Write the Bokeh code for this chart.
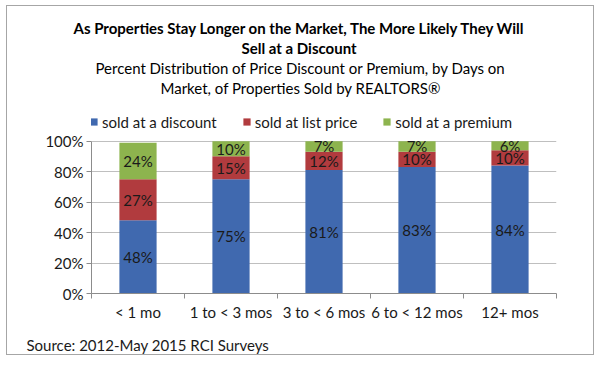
from bokeh.plotting import figure
from bokeh.models import (ColumnDataSource, Range1d, FixedTicker, Legend, LegendItem, Title,
                          InlineStyleSheet)
from bokeh.core.properties import value
from bokeh.embed import file_html
from bokeh.resources import INLINE

# ---- data ----
categories = ["< 1 mo", "1 to < 3 mos", "3 to < 6 mos", "6 to < 12 mos", "12+ mos"]
series_names = ["sold at a discount", "sold at list price", "sold at a premium"]
discount = [48, 75, 81, 83, 84]
list_price = [27, 15, 12, 10, 10]
premium = [24, 10, 7, 7, 6]
y_ticks = [0, 20, 40, 60, 80, 100]
y_tick_labels = ["0%", "20%", "40%", "60%", "80%", "100%"]

title_lines = ["As Properties Stay Longer on the Market, The More Likely They Will",
               "Sell at a Discount"]
subtitle_lines = ["Percent Distribution of Price Discount or Premium,  by Days on",
                  "Market, of Properties Sold by REALTORS\u00ae"]
source_text = "Source: 2012-May 2015 RCI Surveys"

colors = ["#4069AF", "#B13B3E", "#8DB44E"]
FONT = "Lato"

# ---- layout constants (page pixels) ----
FRAME_LEFT, FRAME_RIGHT = 91, 556
Y0_PX, Y100_PX = 293.3, 140.7        # pixel rows of 0% and 100%
FRAME_TOP = 96                       # frame extends above 100% to host the legend
px_per_unit = (Y0_PX - Y100_PX) / 100.0
y_end = 100 + (Y100_PX - FRAME_TOP) / px_per_unit

n = len(categories)
xs = [i + 0.5 for i in range(n)]
src = ColumnDataSource(dict(x=xs, discount=discount, list_price=list_price, premium=premium))

border_css = InlineStyleSheet(css="""
:host { position: relative; }
:host::after {
  content: ""; position: absolute; left: 6px; top: 5px; width: 588px; height: 350px;
  border: 1px solid #A6A6A6; pointer-events: none; z-index: 50; box-sizing: border-box;
}
""")

p = figure(width=600, height=365, output_backend="svg", toolbar_location=None, title=None,
           x_range=Range1d(0, n), y_range=Range1d(0, y_end),
           min_border_left=FRAME_LEFT, min_border_right=600 - FRAME_RIGHT,
           min_border_top=FRAME_TOP, min_border_bottom=round(365 - Y0_PX))
p.outline_line_color = None
p.background_fill_color = "white"
p.border_fill_color = "white"
p.stylesheets = [border_css]

renderers = p.vbar_stack(["discount", "list_price", "premium"], x="x", width=0.4,
                         source=src, color=colors, line_color=None)

# data labels
lab_x, lab_y, lab_t = [], [], []
for i in range(n):
    bottom = 0
    for vals in (discount, list_price, premium):
        v = vals[i]
        lab_x.append(xs[i])
        lab_y.append(bottom + v / 2)
        lab_t.append(f"{v}%")
        bottom += v
p.text(x=lab_x, y=lab_y, text=lab_t, text_align="center", text_baseline="middle",
       text_font=value(FONT), text_font_size="15px", text_color="#1a1a1a")

# axes
p.xgrid.visible = False
p.ygrid.ticker = FixedTicker(ticks=y_ticks)
p.ygrid.grid_line_color = "#BFBFBF"
p.ygrid.grid_line_width = 1

ya = p.yaxis[0]
ya.ticker = FixedTicker(ticks=y_ticks)
ya.bounds = (0, 100)
ya.major_label_overrides = {t: l for t, l in zip(y_ticks, y_tick_labels)}
ya.axis_line_color = "#8C8C8C"
ya.major_tick_line_color = "#8C8C8C"
ya.major_tick_out = 5
ya.major_tick_in = 0
ya.minor_tick_line_color = None
ya.major_label_standoff = 3
ya.major_label_text_font = FONT
ya.major_label_text_font_size = "15px"
ya.major_label_text_color = "#1a1a1a"

xa = p.xaxis[0]
xa.ticker = FixedTicker(ticks=xs, minor_ticks=list(range(n + 1)))
xa.major_label_overrides = {x: c for x, c in zip(xs, categories)}
xa.axis_line_color = "#8C8C8C"
xa.major_tick_line_color = None
xa.major_tick_out = 0
xa.major_tick_in = 0
xa.minor_tick_line_color = "#8C8C8C"
xa.minor_tick_out = 5
xa.minor_tick_in = 0
xa.major_label_standoff = 4
xa.major_label_text_font = FONT
xa.major_label_text_font_size = "15px"
xa.major_label_text_color = "#1a1a1a"

legend = Legend(items=[LegendItem(label=nm, renderers=[r]) for nm, r in zip(series_names, renderers)],
                orientation="horizontal", location=(-2, Y0_PX - 131),
                glyph_width=9, glyph_height=9, label_standoff=4, spacing=25,
                label_height=14, padding=0, margin=0, border_line_color=None,
                background_fill_alpha=0, label_text_font=FONT, label_text_font_size="15px",
                label_text_color="#1a1a1a")
p.add_layout(legend, "center")

# titles: innermost first; left aligned with offsets so that they centre on x=300
sub_offsets = [69, 4]
title_offsets = [150, -18]
for txt, off in zip(reversed(subtitle_lines), sub_offsets):
    p.add_layout(Title(text=txt, align="left", offset=off, text_font=FONT, text_font_size="15px",
                       text_font_style="normal", text_color="#000000", standoff=0), "above")
for txt, off in zip(reversed(title_lines), title_offsets):
    p.add_layout(Title(text=txt, align="left", offset=off, text_font=FONT, text_font_size="15px",
                       text_font_style="bold", text_color="#000000", standoff=0), "above")

p.add_layout(Title(text=source_text, align="left", offset=26 - FRAME_LEFT, text_font=FONT,
                   text_font_size="15px", text_font_style="normal", text_color="#1a1a1a",
                   standoff=20), "below")

open("out.html", "w").write(file_html(p, INLINE))
